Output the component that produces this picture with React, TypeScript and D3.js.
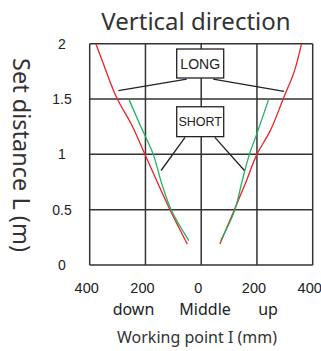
import React from "react";
import * as d3 from "d3";

const xTicks = [-400, -200, 0, 200, 400];
const xTickLabels = ["400", "200", "0", "200", "400"];
const yTicks = [0, 0.5, 1, 1.5, 2];
const yTickLabels = ["0", "0.5", "1", "1.5", "2"];
const dirLabels = ["down", "Middle", "up"];
const dirPositions = [-243, 14, 240];

// [mm, L(m)]
const longLeft: [number, number][] = [[-378, 2.0], [-354, 1.84], [-301, 1.5], [-250, 1.27], [-202, 1.0], [-112, 0.5], [-50, 0.19]];
const longRight: [number, number][] = [[360, 2.0], [334, 1.75], [294, 1.5], [247, 1.21], [200, 1.0], [159, 0.74], [119, 0.5], [67, 0.19]];
const shortLeft: [number, number][] = [[-258, 1.49], [-220, 1.27], [-172, 1.0], [-142, 0.74], [-108, 0.5], [-44, 0.22]];
const shortRight: [number, number][] = [[241, 1.49], [203, 1.21], [173, 1.0], [145, 0.74], [121, 0.5], [70, 0.22]];

// annotation boxes: top L, bottom L
const boxLabels = ["LONG", "SHORT"];
const boxTop = [1.952, 1.43];
const boxBottom = [1.69, 1.16];
// leader lines [x1,L1,x2,L2]
const longLeaders = [[-52, 1.68, -297, 1.575], [43, 1.68, 297, 1.57]];
const shortLeaders = [[-58, 1.154, -144, 0.854], [49, 1.154, 155, 0.854]];

export default function App() {
  const W = 321, H = 351;
  const x = d3.scaleLinear().domain([-400, 400]).range([89.7, 312.7]);
  const y = d3.scaleLinear().domain([0, 2]).range([265, 43.7]);
  const line = d3.line<[number, number]>().x(d => x(d[0])).y(d => y(d[1])).curve(d3.curveMonotoneY);
  const gridColor = "#333";
  const red = "#ee2024";
  const green = "#22b062";
  const boxW = 47;
  return (
    <svg width={W} height={H} style={{ position: "absolute", left: 0, top: 0, background: "#fff" }}>
      <text x={196} y={30} textAnchor="middle" fontFamily="Noto Sans" fontSize={24} fill="#333">Vertical direction</text>
      <text transform={`translate(13,155) rotate(90)`} textAnchor="middle" fontFamily="Noto Sans" fontSize={23.5} fill="#333">Set distance L (m)</text>
      {xTicks.map(t => (
        <line key={"vx" + t} x1={x(t)} x2={x(t)} y1={y(0)} y2={y(2)} stroke={gridColor} strokeWidth={1.5} />
      ))}
      {yTicks.map(t => (
        <line key={"hy" + t} x1={x(-400)} x2={x(400)} y1={y(t)} y2={y(t)} stroke={gridColor} strokeWidth={1.5} />
      ))}
      {yTicks.map((t, i) => (
        <text key={"yl" + t} x={62} y={y(t)} dy="0.35em" textAnchor="middle" fontFamily="Liberation Sans" fontSize={14} fill="#222">{yTickLabels[i]}</text>
      ))}
      {xTicks.map((t, i) => (
        <text key={"xl" + i} x={x(t) - 3} y={293} textAnchor="middle" fontFamily="Liberation Sans" fontSize={14.5} fill="#222">{xTickLabels[i]}</text>
      ))}
      {dirLabels.map((d, i) => (
        <text key={"dl" + i} x={x(dirPositions[i])} y={315} textAnchor="middle" fontFamily="Noto Sans" fontSize={16} fill="#222">{d}</text>
      ))}
      <text x={197} y={343} textAnchor="middle" fontFamily="Noto Sans" fontSize={16} fill="#333">Working point I (mm)</text>
      <path d={line(longLeft) || ""} fill="none" stroke={red} strokeWidth={1.3} />
      <path d={line(longRight) || ""} fill="none" stroke={red} strokeWidth={1.3} />
      <path d={line(shortLeft) || ""} fill="none" stroke={green} strokeWidth={1.3} />
      <path d={line(shortRight) || ""} fill="none" stroke={green} strokeWidth={1.3} />
      {[...longLeaders, ...shortLeaders].map((l, i) => (
        <line key={"ld" + i} x1={x(l[0])} y1={y(l[1])} x2={x(l[2])} y2={y(l[3])} stroke="#222" strokeWidth={1.3} />
      ))}
      {boxLabels.map((b, i) => (
        <g key={b}>
          <rect x={x(0) - boxW / 2 - 1} y={y(boxTop[i])} width={boxW} height={y(boxBottom[i]) - y(boxTop[i])} fill="#fff" stroke="#222" strokeWidth={1.3} />
          <text x={x(0) - 1} y={(y(boxTop[i]) + y(boxBottom[i])) / 2} dy="0.36em" textAnchor="middle" fontFamily="Liberation Sans" fontSize={i === 0 ? 14 : 12.5} fill="#222">{b}</text>
        </g>
      ))}
    </svg>
  );
}
